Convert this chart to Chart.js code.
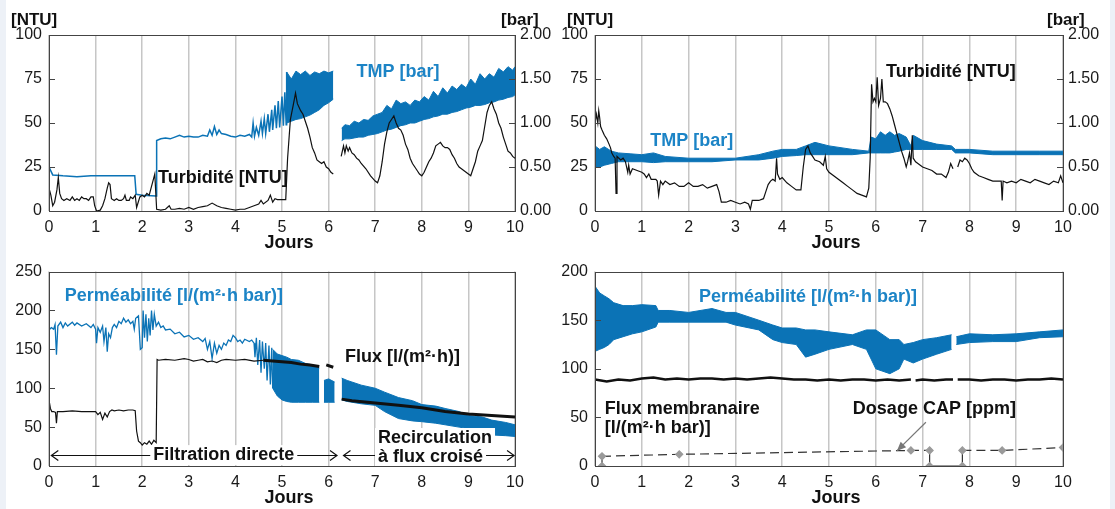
<!DOCTYPE html>
<html>
<head>
<meta charset="utf-8">
<script src="https://cdn.jsdelivr.net/npm/chart.js@4.4.1/dist/chart.umd.min.js"></script>
<style>
  body { margin: 0; width: 1115px; height: 509px; background: #fff; position: relative; overflow: hidden;
         font-family: "Liberation Sans", Arial, Helvetica, sans-serif; }
  .strip { position: absolute; top: 0; height: 509px; background: #edf1f7; }
  canvas { position: absolute; }
  .unit { position: absolute; font-weight: bold; font-size: 17px; line-height: 20px; color: #111; }
</style>
</head>
<body>
<div class="strip" style="left:0;width:6px"></div>
<div class="strip" style="left:1110px;width:5px"></div>
<canvas id="c1" width="557" height="255" style="left:0;top:0"></canvas>
<canvas id="c2" width="553" height="255" style="left:557px;top:0"></canvas>
<canvas id="c3" width="557" height="254" style="left:0;top:255px"></canvas>
<canvas id="c4" width="553" height="254" style="left:557px;top:255px"></canvas>
<div class="unit" style="left:11px;top:10px">[NTU]</div>
<div class="unit" style="left:501px;top:10px">[bar]</div>
<div class="unit" style="left:567px;top:10px">[NTU]</div>
<div class="unit" style="left:1047px;top:10px">[bar]</div>
<script>
var FONT = '"Liberation Sans", Arial, Helvetica, sans-serif';
var BLUE = '#0b73b6';
var LABEL_BLUE = '#1c84c6';

// ---- panel 1 : turbidité + TMP (filtration directe / recirculation)
var p1TurbX = [0, 0.04, 0.08, 0.12, 0.17, 0.2, 0.23, 0.27, 0.32, 0.38,
    0.45, 0.5, 0.55, 0.6, 0.65, 0.7, 0.75, 0.8, 0.85, 0.9,
    0.95, 0.98, 1.02, 1.1, 1.15, 1.2, 1.25, 1.28, 1.31, 1.34,
    1.4, 1.45, 1.5, 1.55, 1.6, 1.63, 1.66, 1.72, 1.75, 1.8,
    1.85, 1.88, 1.95, 2.0, 2.05, 2.1, 2.15, 2.2, 2.27, 2.31,
    2.4, 2.5, 2.58, 2.62, 2.7, 2.8, 2.9, 3.0, 3.1, 3.2,
    3.3, 3.4, 3.5, 3.6, 3.7, 3.8, 3.9, 4.0, 4.1, 4.2,
    4.3, 4.4, 4.5, 4.55, 4.6, 4.7, 4.75, 4.8, 4.85, 4.9,
    5.0, 5.08, 5.12, 5.18, 5.24, 5.29, 5.33, 5.4, 5.45, 5.5,
    5.55, 5.6, 5.65, 5.7, 5.75, 5.8, 5.85, 5.9, 5.95, 6.0,
    6.05, 6.1, 6.18, 6.27, 6.32, 6.35, 6.38, 6.42, 6.45, 6.5,
    6.55, 6.6, 6.65, 6.7, 6.8, 6.9, 7.0, 7.05, 7.1, 7.15,
    7.2, 7.25, 7.3, 7.35, 7.4, 7.45, 7.5, 7.55, 7.6, 7.65,
    7.7, 7.75, 7.8, 7.85, 7.9, 7.95, 8.0, 8.05, 8.1, 8.15,
    8.2, 8.25, 8.3, 8.35, 8.4, 8.45, 8.5, 8.55, 8.6, 8.65,
    8.7, 8.75, 8.8, 8.85, 8.9, 8.95, 9.0, 9.05, 9.1, 9.15,
    9.2, 9.25, 9.3, 9.35, 9.4, 9.45, 9.5, 9.55, 9.6, 9.65,
    9.7, 9.75, 9.8, 9.85, 9.9, 9.95, 10];
var p1TurbY = [13, 9, 3, 5, 12, 19, 10, 7, 6, 7,
    6, 8, 6, 7, 6, 8, 7, 7, 6, 8,
    8, 3, 0, 0.5, 3, 7, 13, 16, 15, 7,
    6, 7, 6, 6, 7, 9, 6, 6, 8, 7,
    9, 2, 8, 9, 8, 10, 9, 14, 21, 1,
    0.5, 1, 3, 1, 1, 1.5, 1, 2, 1, 2,
    2.5, 3, 4.5, 3, 2, 1.5, 1, 0.5, 1, 1,
    2, 3, 4, 6, 4, 6, 9, 5, 7, 6.5,
    6.5, 6.5, 30, 52, 60, 67, 61, 57, 55, 51,
    47, 42, 36, 33, 29, 28, 27, 28, 25, 24,
    22, 21, null, 31, 37, 33, 37, 34, 36, 33,
    32, 30, 29, 27, 24, 20, 17, 16, 20, 28,
    38, 45, 50, 52, 54, 50, 47, 46, 43, 38,
    35, 30, 27, 25, 23, 21, 20, 22, 25, 28,
    30, 33, 37, 38, 39, 37, 36, 36, 35, 32,
    30, 27, 25, 24, 23, 22, 21, 20, 24, 28,
    34, 37, 40, 48, 56, 60, 62, 58, 55, 50,
    47, 42, 38, 34, 33, 31, 30];
var p1TmpX = [0, 0.08, 0.3, 0.6, 0.9, 1.2, 1.5, 1.84, 1.87, 2.0,
    2.3, 2.31, 2.4, 2.5, 2.6, 2.7, 2.8, 2.9, 3.0, 3.1,
    3.2, 3.3, 3.4, 3.45, 3.5, 3.55, 3.6, 3.65, 3.7, 3.8,
    3.9, 4.0, 4.1, 4.2, 4.3, 4.35, 4.38, 4.41, 4.45, 4.5,
    4.55, 4.58, 4.62, 4.65, 4.7, 4.73, 4.78, 4.8, 4.85, 4.88,
    4.92, 4.95, 5.0, 5.03, 5.06, 5.09, 5.1];
var p1TmpY = [0.50, 0.41, 0.40, 0.39, 0.40, 0.40, 0.40, 0.40, 0.19, 0.18,
    0.17, 0.80, 0.82, 0.83, 0.82, 0.84, 0.86, 0.84, 0.85, 0.84,
    0.84, 0.86, 0.85, 0.92, 0.86, 0.96, 0.87, 0.92, 0.88, 0.87,
    0.85, 0.84, 0.86, 0.85, 0.87, 0.84, 1.0, 0.85, 0.95, 0.86,
    1.02, 0.88, 1.05, 0.88, 1.1, 0.9, 1.15, 0.92, 1.2, 0.94,
    1.25, 0.95, 1.3, 0.97, 1.35, 0.98, 1.58];
var p1BandAX = [5.1, 5.2, 5.3, 5.4, 5.5, 5.6, 5.7, 5.8, 5.9, 6.0, 6.1];
var p1BandAHi = [1.58, 1.5, 1.59, 1.55, 1.59, 1.54, 1.58, 1.56, 1.59, 1.57, 1.59];
var p1BandALo = [1.0, 1.02, 1.04, 1.05, 1.07, 1.09, 1.12, 1.15, 1.2, 1.23, 1.27];
var p1BandBX = [6.28, 6.35, 6.45, 6.55, 6.65, 6.75, 6.85, 6.95, 7.05, 7.15,
    7.25, 7.35, 7.45, 7.55, 7.65, 7.75, 7.85, 7.95, 8.05, 8.15,
    8.25, 8.35, 8.45, 8.55, 8.65, 8.75, 8.85, 8.95, 9.05, 9.15,
    9.25, 9.35, 9.45, 9.55, 9.65, 9.75, 9.85, 9.95, 10];
var p1BandBHi = [0.94, 0.98, 0.97, 1.02, 1.0, 1.04, 1.03, 1.08, 1.1, 1.12,
    1.2, 1.16, 1.26, 1.22, 1.24, 1.2, 1.26, 1.24, 1.3, 1.26,
    1.36, 1.3, 1.4, 1.34, 1.42, 1.38, 1.44, 1.4, 1.5, 1.44,
    1.56, 1.5, 1.56, 1.52, 1.62, 1.58, 1.64, 1.6, 1.64];
var p1BandBLo = [0.8, 0.82, 0.82, 0.83, 0.84, 0.84, 0.86, 0.87, 0.88, 0.9,
    0.92, 0.93, 0.95, 0.97, 0.98, 1.0, 1.0, 1.02, 1.04, 1.05,
    1.07, 1.08, 1.1, 1.1, 1.12, 1.13, 1.15, 1.17, 1.18, 1.2,
    1.2, 1.21, 1.23, 1.24, 1.26, 1.27, 1.29, 1.3, 1.32];

// ---- panel 2 : turbidité + TMP avec CAP
var p2TurbX = [0, 0.03, 0.06, 0.08, 0.1, 0.12, 0.15, 0.2, 0.25, 0.3,
    0.33, 0.36, 0.4, 0.43, 0.45, 0.47, 0.55, 0.6, 0.65, 0.7,
    0.72, 0.75, 0.8, 0.9, 1.0, 1.05, 1.1, 1.15, 1.2, 1.3,
    1.33, 1.36, 1.4, 1.45, 1.5, 1.6, 1.7, 1.8, 1.9, 2.0,
    2.1, 2.2, 2.3, 2.4, 2.5, 2.6, 2.65, 2.7, 2.8, 2.9,
    3.0, 3.1, 3.2, 3.28, 3.32, 3.36, 3.5, 3.6, 3.65, 3.7,
    3.75, 3.8, 3.85, 3.88, 3.9, 3.95, 4.0, 4.1, 4.2, 4.3,
    4.4, 4.45, 4.5, 4.55, 4.6, 4.65, 4.7, 4.8, 4.88, 4.92,
    4.95, 5.0, 5.1, 5.2, 5.3, 5.4, 5.5, 5.6, 5.7, 5.8,
    5.85, 5.88, 5.91, 5.94, 5.97, 6.0, 6.03, 6.06, 6.1, 6.13,
    6.16, 6.2, 6.25, 6.3, 6.35, 6.4, 6.45, 6.5, 6.55, 6.6,
    6.65, 6.68, 6.72, 6.75, 6.78, 6.8, 6.85, 6.9, 7.0, 7.1,
    7.2, 7.3, 7.4, 7.5, 7.55, 7.6, 7.65, 7.7, 7.75, 7.8,
    7.85, 7.9, 7.95, 8.0, 8.05, 8.1, 8.2, 8.3, 8.4, 8.5,
    8.6, 8.68, 8.7, 8.72, 8.8, 8.9, 9.0, 9.1, 9.2, 9.3,
    9.4, 9.5, 9.6, 9.7, 9.8, 9.9, 9.95, 10];
var p2TurbY = [50, 55, 50, 57, 53, 48, 46, 43, 41, 38,
    36, 33, 31, 30, 10, 31, 29, 30, 28, 22,
    26, 21, 24, 23, 22, 21, 19, 21, 18, 18,
    17, 9, 17, 15, 17, 15, 16, 14, 14, 16,
    14, 14, 15, 13, 14, 15, 11, 5, 5, 6,
    5, 4, 5, 4, 1, 6, 6, 7, 11, 15,
    17, 18, 17, 30, 21, 18, 19, 16, 14, 12,
    12, 25, 35, 37, 33, 31, 29, 28, 26, 31,
    24, 22, 20, 18, 16, 14, 12, 10, 9, 8,
    13, 30, 72, 62, 64, 62, 76, 60, 64, 75,
    62, 62, 61, 58, 54, 49, 44, 39, 34, 30,
    25, 28, 33, 26, 43, 30, 28, 27, 25, 24,
    23, 21, 21, 19, 22, 27, 24, null, 25, 29,
    28, 30, 29, 27, 24, 22, 20, 19, 18, 17,
    17, 17, 6, 17, 16, 17, 16, 18, 17, 16,
    18, 17, 16, 15, 17, 16, 20, 16];
var p2TmpX = [0, 0.1, 0.2, 0.35, 0.5, 0.75, 1.0, 1.25, 1.5, 2.0,
    2.5, 3.0, 3.5, 3.8, 4.0, 4.3, 4.5, 4.7, 5.0, 5.5,
    5.85, 5.9, 6.0, 6.1, 6.2, 6.3, 6.4, 6.5, 6.65, 6.75,
    6.8, 7.0, 7.3, 7.62, 7.7, 8.0, 8.5, 9.0, 9.5, 10];
var p2TmpHi = [0.74, 0.7, 0.73, 0.68, 0.66, 0.65, 0.64, 0.66, 0.62, 0.6,
    0.6, 0.6, 0.64, 0.68, 0.7, 0.7, 0.74, 0.78, 0.74, 0.7,
    0.68, 0.84, 0.82, 0.9, 0.86, 0.9, 0.86, 0.88, 0.84, 0.74,
    0.86, 0.8, 0.76, 0.74, 0.7, 0.7, 0.68, 0.68, 0.68, 0.68];
var p2TmpLo = [0.5, 0.5, 0.52, 0.54, 0.56, 0.56, 0.56, 0.55, 0.56, 0.56,
    0.56, 0.58, 0.58, 0.6, 0.62, 0.63, 0.64, 0.64, 0.64, 0.64,
    0.66, 0.66, 0.66, 0.66, 0.66, 0.66, 0.67, 0.68, 0.7, 0.7,
    0.7, 0.7, 0.7, 0.7, 0.66, 0.66, 0.64, 0.64, 0.64, 0.64];

// ---- panel 3 : perméabilité + flux
var p3PermX = [0, 0.05, 0.1, 0.13, 0.16, 0.19, 0.25, 0.3, 0.35, 0.4,
    0.5, 0.55, 0.6, 0.7, 0.8, 0.9, 0.95, 1.0, 1.02, 1.05,
    1.1, 1.15, 1.18, 1.22, 1.25, 1.28, 1.32, 1.36, 1.4, 1.45,
    1.5, 1.55, 1.6, 1.65, 1.7, 1.75, 1.8, 1.83, 1.86, 1.92,
    1.96, 2.0, 2.02, 2.05, 2.08, 2.11, 2.14, 2.17, 2.2, 2.23,
    2.26, 2.3, 2.35, 2.4, 2.45, 2.5, 2.6, 2.7, 2.8, 2.9,
    3.0, 3.1, 3.2, 3.3, 3.35, 3.4, 3.45, 3.5, 3.55, 3.6,
    3.65, 3.7, 3.75, 3.8, 3.85, 3.9, 3.95, 4.0, 4.05, 4.1,
    4.15, 4.2, 4.3, 4.35, 4.4, 4.42, 4.45, 4.48, 4.52, 4.55,
    4.58, 4.62, 4.65, 4.68, 4.72, 4.75, 4.78, 4.8];
var p3PermY = [175, 178, 176, 182, 143, 180, 185, 178, 184, 180,
    185, 181, 184, 180, 183, 178, 182, 176, 158, 178,
    172, 180, 160, 178, 147, 170, 165, 178, 182, 178,
    186, 183, 190, 185, 188, 183, 186, 176, 190, 193,
    150, 152, 200, 165, 195, 160, 190, 168, 200, 175,
    195, 180, 185, 178, 180, 175, 176, 170, 172, 166,
    168, 163, 165, 160, 164, 150, 160, 138, 158, 145,
    155, 150, 158, 155, 162, 160, 168, 165, 160, 162,
    158, 163, 160, 162, 158, 140, 165, 130, 162, 120,
    160, 125, 158, 110, 155, 105, 152, 100];
var p3BandAX = [4.8, 4.9, 5.0, 5.1, 5.2, 5.35, 5.5, 5.65, 5.8];
var p3BandAHi = [150, 144, 142, 140, 137, 136, 132, 130, 126];
var p3BandALo = [100, 90, 85, 83, 82, 82, 82, 82, 82];
var p3BandBX = [5.9, 6.0, 6.13];
var p3BandBHi = [110, 112, 108];
var p3BandBLo = [82, 82, 82];
var p3BandCX = [6.28, 6.4, 6.5, 6.7, 7.0, 7.2, 7.5, 7.8, 8.0, 8.3,
    8.5, 8.8, 9.0, 9.3, 9.5, 9.8, 10];
var p3BandCHi = [113, 110, 108, 104, 100, 95, 88, 84, 79, 77,
    74, 70, 65, 63, 59, 56, 53];
var p3BandCLo = [85, 83, 82, 80, 78, 70, 61, 58, 57, 55,
    53, 50, 48, 44, 40, 39, 38];
var p3FluxX = [0, 0.03, 0.06, 0.1, 0.14, 0.16, 0.18, 0.3, 0.5, 0.7,
    0.9, 1.0, 1.05, 1.1, 1.15, 1.2, 1.25, 1.3, 1.35, 1.4,
    1.5, 1.6, 1.7, 1.8, 1.85, 1.88, 1.92, 1.96, 2.0, 2.05,
    2.1, 2.15, 2.2, 2.25, 2.3, 2.32, 2.35, 2.5, 2.7, 2.9,
    3.0, 3.1, 3.2, 3.3, 3.4, 3.5, 3.6, 3.7, 3.8, 4.0,
    4.2, 4.4, 4.6];
var p3FluxY = [85, 74, 70, 70, 69, 55, 70, 70, 71, 70,
    70, 70, 66, 69, 60, 68, 63, 70, 72, 71,
    72, 71, 72, 72, 71, 45, 32, 30, 27, 30,
    28, 32, 28, 33, 30, 137, 136, 137, 136, 138,
    137, 135, 136, 137, 134, 135, 133, 136, 137, 136,
    137, 135, 136];
var p3FluxThickX = [4.6, 4.8, 5.0, 5.2, 5.4, 5.6, 5.8, 5.88, 5.95, 6.1, 6.2,
    6.28, 6.5, 7.0, 7.5, 8.0, 8.3, 8.5, 9.0, 9.5, 10];
var p3FluxThickY = [136, 135, 134, 133, 131, 130, 128, null, 130, 127, null,
    86, 84, 81, 78, 75, 72, 70, 67, 65, 63];

// ---- panel 4 : perméabilité + flux + dosage CAP
var p4BandAX = [0, 0.1, 0.2, 0.3, 0.4, 0.6, 0.8, 1.0, 1.3, 1.35,
    1.6, 2.0, 2.5, 2.8, 3.0, 3.5, 3.8, 4.0, 4.3, 4.5,
    4.7, 5.0, 5.5, 5.8, 6.0, 6.3, 6.5, 6.6, 6.8, 7.0,
    7.3, 7.62];
var p4BandAHi = [185, 178, 175, 172, 168, 165, 165, 166, 165, 160,
    160, 158, 162, 158, 158, 150, 145, 142, 142, 140,
    140, 138, 135, 140, 140, 130, 130, 125, 127, 130,
    132, 135];
var p4BandALo = [118, 120, 122, 125, 130, 133, 136, 138, 143, 148,
    148, 148, 148, 148, 145, 140, 130, 127, 125, 112,
    115, 120, 125, 120, 100, 95, 100, 110, 106, 110,
    115, 120];
var p4BandBX = [7.72, 8.0, 8.5, 9.0, 9.5, 10];
var p4BandBHi = [133, 136, 135, 136, 138, 140];
var p4BandBLo = [125, 127, 128, 128, 132, 133];
var p4FluxX = [0, 0.25, 0.5, 0.75, 1, 1.25, 1.5, 1.75, 2, 2.25,
    2.5, 2.75, 3, 3.25, 3.5, 3.75, 4, 4.25, 4.5, 4.75,
    5, 5.25, 5.5, 5.75, 6, 6.25, 6.5, 6.75, 6.8, 6.85,
    7, 7.25, 7.5, 7.65, 7.7, 7.75, 8, 8.25, 8.5, 8.75,
    9, 9.25, 9.5, 9.75, 10];
var p4FluxY = [89, 87, 89, 88, 90, 91, 89, 90, 89, 90,
    90, 89, 90, 89, 90, 91, 90, 89, 89, 88,
    89, 88, 89, 89, 88, 89, 88, 89, null, 88,
    89, 88, 89, 89, null, 89, 89, 88, 89, 89,
    88, 89, 89, 90, 89];
var p4CapX = [0.15, 0.15, 1.8, 6.75, 7.15, 7.15, 7.85, 7.85, 8.7, 10];
var p4CapY = [0, 10, 12, 16, 16, 0, 0, 16, 16, 19];

function pts(xs, ys) {
    return xs.map(function (x, i) { return { x: x, y: ys[i] }; });
}

function lineSet(xs, ys, color, width, axis) {
    return { data: pts(xs, ys), borderColor: color, borderWidth: width, pointRadius: 0,
             fill: false, tension: 0, yAxisID: axis || 'y' };
}

function bandSets(xs, hi, lo, axis) {
    return [
        { data: pts(xs, hi), borderColor: BLUE, borderWidth: 1, backgroundColor: BLUE,
          fill: '+1', pointRadius: 0, tension: 0, yAxisID: axis || 'y' },
        { data: pts(xs, lo), borderColor: BLUE, borderWidth: 1, fill: false,
          pointRadius: 0, tension: 0, yAxisID: axis || 'y' }
    ];
}

var deco = {
    id: 'deco',
    afterDatasetsDraw: function (chart, args, opts) {
        var ctx = chart.ctx, a = chart.chartArea, xs = chart.scales.x;
        ctx.save();
        (opts.spans || []).forEach(function (s) {
            var ys = chart.scales.y;
            var x1 = xs.getPixelForValue(s.x1), x2 = xs.getPixelForValue(s.x2), y = Math.round(ys.getPixelForValue(s.y)) + 0.5;
            ctx.strokeStyle = '#111'; ctx.lineWidth = 1.2;
            ctx.beginPath();
            ctx.moveTo(x1, y); ctx.lineTo(x2, y);
            ctx.moveTo(x1 + 7, y - 5); ctx.lineTo(x1, y); ctx.lineTo(x1 + 7, y + 5);
            ctx.moveTo(x2 - 7, y - 5); ctx.lineTo(x2, y); ctx.lineTo(x2 - 7, y + 5);
            ctx.stroke();
        });
        (opts.pointers || []).forEach(function (p) {
            var ys = chart.scales.y;
            var x1 = xs.getPixelForValue(p.x1), y1 = ys.getPixelForValue(p.y1);
            var x2 = xs.getPixelForValue(p.x2), y2 = ys.getPixelForValue(p.y2);
            var ang = Math.atan2(y2 - y1, x2 - x1);
            ctx.strokeStyle = '#777'; ctx.fillStyle = '#777'; ctx.lineWidth = 1.2;
            ctx.beginPath(); ctx.moveTo(x1, y1); ctx.lineTo(x2, y2); ctx.stroke();
            ctx.beginPath();
            ctx.moveTo(x2, y2);
            ctx.lineTo(x2 - 10 * Math.cos(ang - 0.4), y2 - 10 * Math.sin(ang - 0.4));
            ctx.lineTo(x2 - 10 * Math.cos(ang + 0.4), y2 - 10 * Math.sin(ang + 0.4));
            ctx.closePath(); ctx.fill();
        });
        ctx.font = 'bold 18px ' + FONT;
        ctx.textBaseline = 'middle';
        (opts.labels || []).forEach(function (l) {
            var ys = chart.scales[l.axis || 'y'];
            var px = xs.getPixelForValue(l.x), py = ys.getPixelForValue(l.y);
            ctx.textAlign = l.align || 'left';
            if (l.bg) {
                var w = ctx.measureText(l.text).width;
                var left = l.align === 'center' ? px - w / 2 : px;
                ctx.fillStyle = '#fff';
                ctx.fillRect(left - 3, py - 10, w + 6, 20);
            }
            ctx.fillStyle = l.color || '#111';
            ctx.fillText(l.text, px, py);
        });
        ctx.textAlign = 'center';
        ctx.fillStyle = '#111';
        ctx.fillText('Jours', (a.left + a.right) / 2 + 7, a.bottom + 32);
        // frame and inward ticks
        ctx.strokeStyle = '#444'; ctx.lineWidth = 1;
        ctx.strokeRect(Math.round(a.left) + 0.5, Math.round(a.top) + 0.5, Math.round(a.width), Math.round(a.height));
        ctx.beginPath();
        chart.scales.y.ticks.forEach(function (t) {
            var py = Math.round(chart.scales.y.getPixelForValue(t.value)) + 0.5;
            ctx.moveTo(a.left, py); ctx.lineTo(a.left + 6, py);
            if (chart.scales.y2) { ctx.moveTo(a.right, py); ctx.lineTo(a.right - 6, py); }
        });
        ctx.stroke();
        ctx.restore();
    }
};

function makeChart(id, datasets, cfg) {
    var tickFont = { family: FONT, size: 16 };
    var scales = {
        x: { type: 'linear', min: 0, max: 10,
             ticks: { stepSize: 1, font: tickFont, color: '#1a1a1a', padding: 7, maxRotation: 0 },
             grid: { color: '#c6c6c6', lineWidth: 1.5, drawTicks: false },
             border: { display: false },
             afterFit: function (s) { s.height = cfg.bottom; } },
        y: { position: 'left', min: 0, max: cfg.max,
             ticks: { stepSize: cfg.step, font: tickFont, color: '#1a1a1a', padding: 7 },
             grid: { display: false, drawTicks: false }, border: { display: false },
             afterFit: function (s) { s.width = cfg.left; } }
    };
    if (cfg.right) {
        scales.y2 = { position: 'right', min: 0, max: 2,
             ticks: { stepSize: 0.5, font: tickFont, color: '#1a1a1a', padding: 5,
                      callback: function (v) { return v.toFixed(2); } },
             grid: { display: false, drawTicks: false }, border: { display: false },
             afterFit: function (s) { s.width = cfg.right; } };
    }
    return new Chart(document.getElementById(id), {
        type: 'line',
        data: { datasets: datasets },
        options: {
            responsive: false, animation: false, events: [],
            layout: { padding: { top: cfg.top, right: cfg.right ? 0 : cfg.rightPad, left: 0, bottom: 0 } },
            scales: scales,
            plugins: { legend: { display: false }, tooltip: { enabled: false }, deco: cfg.deco }
        },
        plugins: [deco]
    });
}

makeChart('c1', [lineSet(p1TurbX, p1TurbY, '#111', 1.2)]
        .concat([lineSet(p1TmpX, p1TmpY, BLUE, 1.5, 'y2')])
        .concat(bandSets(p1BandAX, p1BandAHi, p1BandALo, 'y2'))
        .concat(bandSets(p1BandBX, p1BandBHi, p1BandBLo, 'y2')),
    { left: 49, right: 42, top: 35, bottom: 44, max: 100, step: 25,
      deco: { labels: [
          { text: 'TMP [bar]', x: 6.6, y: 79, color: LABEL_BLUE },
          { text: 'Turbidité [NTU]', x: 2.34, y: 18.5 } ] } });

makeChart('c2', [lineSet(p2TurbX, p2TurbY, '#111', 1.2)]
        .concat(bandSets(p2TmpX, p2TmpHi, p2TmpLo, 'y2')),
    { left: 38, right: 47, top: 35, bottom: 44, max: 100, step: 25,
      deco: { labels: [
          { text: 'Turbidité [NTU]', x: 6.22, y: 79 },
          { text: 'TMP [bar]', x: 1.18, y: 40, color: LABEL_BLUE } ] } });

makeChart('c3', [lineSet(p3FluxX, p3FluxY, '#111', 1.2), lineSet(p3FluxThickX, p3FluxThickY, '#111', 3)]
        .concat([lineSet(p3PermX, p3PermY, BLUE, 1.3)])
        .concat(bandSets(p3BandAX, p3BandAHi, p3BandALo))
        .concat(bandSets(p3BandBX, p3BandBHi, p3BandBLo))
        .concat(bandSets(p3BandCX, p3BandCHi, p3BandCLo)),
    { left: 49, rightPad: 42, top: 16, bottom: 43, max: 250, step: 50,
      deco: {
          spans: [ { x1: 0.05, x2: 6.18, y: 14 }, { x1: 6.32, x2: 9.98, y: 14 } ],
          labels: [
              { text: 'Perméabilité [l/(m²·h bar)]', x: 0.34, y: 218, color: LABEL_BLUE },
              { text: 'Flux [l/(m²·h)]', x: 6.35, y: 140 },
              { text: 'Filtration directe', x: 3.75, y: 14, align: 'center', bg: true },
              { text: 'Recirculation', x: 7.06, y: 36, bg: true },
              { text: 'à flux croisé', x: 7.06, y: 11, bg: true } ] } });

var capSet = { data: pts(p4CapX, p4CapY), borderColor: '#333', borderWidth: 1.2, fill: false, tension: 0,
    pointStyle: 'rectRot', pointRadius: 3.5, pointBackgroundColor: '#9a9a9a', pointBorderColor: '#9a9a9a',
    segment: { borderDash: function (c) {
        var flat0 = c.p0.parsed.y === 0 && c.p1.parsed.y === 0;
        return (c.p0.parsed.x === c.p1.parsed.x || flat0) ? [] : [9, 5];
    } } };

makeChart('c4', [capSet, lineSet(p4FluxX, p4FluxY, '#111', 2.5)]
        .concat(bandSets(p4BandAX, p4BandAHi, p4BandALo))
        .concat(bandSets(p4BandBX, p4BandBHi, p4BandBLo)),
    { left: 38, rightPad: 47, top: 16, bottom: 43, max: 200, step: 50,
      deco: {
          pointers: [ { x1: 7.07, y1: 45, x2: 6.45, y2: 15.5 } ],
          labels: [
              { text: 'Perméabilité [l/(m²·h bar)]', x: 2.22, y: 174, color: LABEL_BLUE },
              { text: 'Flux membranaire', x: 0.21, y: 58.5 },
              { text: '[l/(m²·h bar)]', x: 0.21, y: 39 },
              { text: 'Dosage CAP [ppm]', x: 5.51, y: 58.5 } ] } });
</script>
</body>
</html>
